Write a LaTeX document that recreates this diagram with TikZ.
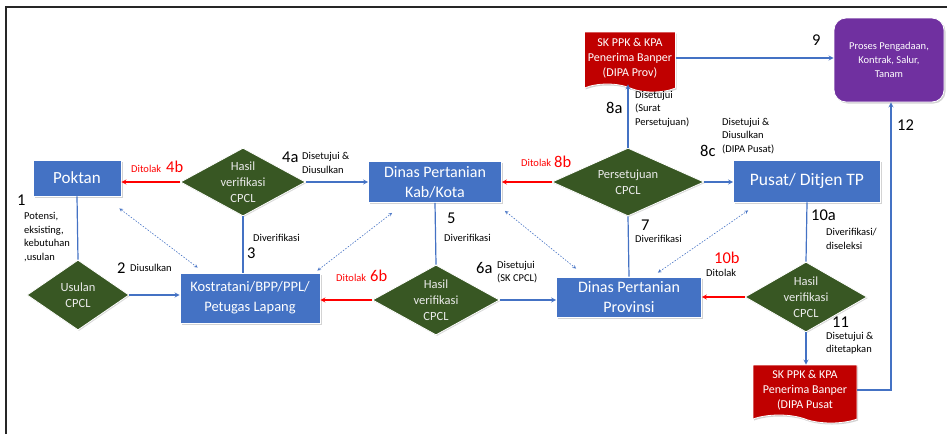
\documentclass[tikz,border=0pt]{standalone}
\usepackage{fontspec}
\setmainfont{Carlito}
\usetikzlibrary{shapes.geometric}
\usetikzlibrary{shapes.symbols}
\usetikzlibrary{shadows}
\usetikzlibrary{calc}
\definecolor{boxblue}{HTML}{4472C4}
\definecolor{dgreen}{HTML}{385723}
\definecolor{docred}{HTML}{C00000}
\definecolor{ungu}{HTML}{7030A0}
\def\nomorfont{\fontsize{16.5}{18}\selectfont}
\def\ketfont{\fontsize{10.5}{13.5}\selectfont}

\tikzset{
  box/.style={rectangle, fill=boxblue, draw=white, line width=0.8pt, text=white,
    align=center, inner sep=1pt,
    drop shadow={shadow xshift=1.5pt, shadow yshift=-1.5pt, opacity=0.35}},
  cek/.style={diamond, aspect=1.8, fill=dgreen, draw=white, line width=0.8pt,
    text=white!92!black, align=center, inner sep=0pt,
    font=\fontsize{12.5}{16}\selectfont,
    drop shadow={shadow xshift=1pt, shadow yshift=-1pt, opacity=0.3}},
  dok/.style={tape, tape bend top=none, tape bend bottom=out and in,
    tape bend height=8pt, fill=docred, draw=white, line width=0.8pt,
    text=white, align=center, inner sep=1pt,
    font=\fontsize{12}{15}\selectfont,
    drop shadow={shadow xshift=1pt, shadow yshift=-1.5pt, opacity=0.35}},
  alur/.style={->, draw=boxblue, line width=1.2pt},
  garis/.style={draw=boxblue, line width=1.2pt},
  tolak/.style={->, draw=red, line width=1.2pt},
  bolak/.style={<->, draw=boxblue, line width=0.6pt, dash pattern=on 1.5pt off 1.5pt},
  ket/.style={anchor=west, inner sep=0pt, align=left, font=\ketfont},
  nomor/.style={anchor=west, inner sep=0pt, font=\nomorfont},
  merah/.style={anchor=west, inner sep=0pt, text=red, font=\ketfont},
  merahno/.style={anchor=west, inner sep=0pt, text=red, font=\nomorfont},
}

\begin{document}
\begin{tikzpicture}[>=stealth, x=1pt, y=-1pt]

\useasboundingbox (0,0) rectangle (947,434);

% frame
\draw[line width=2pt, black!85] (6,434) -- (6,7) -- (947,7);

% boxes
\node[box, minimum width=88, minimum height=36, font=\fontsize{17}{20}\selectfont]
  (poktan) at (77,178) {Poktan};
\node[box, minimum width=140, minimum height=50, font=\fontsize{14.5}{20}\selectfont]
  (kostra) at (250,298) {Kostratani/BPP/PPL/\\Petugas Lapang};
\node[box, minimum width=133, minimum height=41, font=\fontsize{16}{20}\selectfont]
  (kab) at (435,182) {Dinas Pertanian\\Kab/Kota};
\node[box, minimum width=145, minimum height=40, font=\fontsize{16}{20}\selectfont]
  (prov) at (629,297) {Dinas Pertanian\\Provinsi};
\node[box, minimum width=147, minimum height=42, font=\fontsize{17.5}{20}\selectfont]
  (pusat) at (807,181) {Pusat/ Ditjen TP};
\node[box, fill=ungu, rounded corners=12pt, minimum width=110, minimum height=84,
  font=\fontsize{10.5}{14}\selectfont]
  (proses) at (889,60) {Proses Pengadaan,\\Kontrak, Salur,\\Tanam};

% documents
\node[dok, minimum width=91, minimum height=60] (skprov) at (630,58)
  {SK PPK \& KPA\\Penerima Banper\\(DIPA Prov)};
\node[dok, minimum width=104, minimum height=58] (skpusat) at (805,390)
  {SK PPK \& KPA\\Penerima Banper\\(DIPA Pusat};

% decisions
\node[cek, minimum width=102, minimum height=70] (usulan) at (78,295) {Usulan\\CPCL};
\node[cek, minimum width=125, minimum height=68] (hasil1) at (243,182) {Hasil\\verifikasi\\CPCL};
\node[cek, minimum width=127, minimum height=70] (hasil2) at (436,300) {Hasil\\verifikasi\\CPCL};
\node[cek, minimum width=152, minimum height=68] (setuju) at (628,182) {Persetujuan\\CPCL};
\node[cek, minimum width=122, minimum height=70] (hasil3) at (806,297) {Hasil\\verifikasi\\CPCL};

% flow
\draw[garis] (poktan.south) -- (usulan.north);
\draw[alur] (usulan.east) -- (usulan.east -| kostra.west);
\draw[garis] (hasil1.south) -- (hasil1.south |- kostra.north);
\draw[tolak] (hasil1.west) -- (hasil1.west -| poktan.east);
\draw[alur] (hasil1.east) -- (hasil1.east -| kab.west);
\draw[garis] (kab.south) -- (hasil2.north);
\draw[tolak] (hasil2.west) -- (hasil2.west -| kostra.east);
\draw[alur] (hasil2.east) -- (hasil2.east -| prov.west);
\draw[garis] (prov.north) -- (setuju.south);
\draw[tolak] (setuju.west) -- (setuju.west -| kab.east);
\draw[alur] (setuju.east) -- (setuju.east -| pusat.west);
\draw[alur] (setuju.north) -- (setuju.north |- skprov.south);
\draw[alur] (skprov.east) -- (skprov.east -| proses.west);
\draw[garis] (pusat.south) -- (hasil3.north);
\draw[tolak] (hasil3.west) -- (hasil3.west -| prov.east);
\draw[alur] (hasil3.south) -- (hasil3.south |- skpusat.north);
\draw[alur] (skpusat.east) -| ([xshift=2pt]proses.south);

% two-way links
\draw[bolak] ($(poktan.south east)+(-2,12)$) -- ($(kostra.north west)+(18,-5)$);
\draw[bolak] ($(kostra.north east)+(-3,-2)$) -- ($(kab.south west)+(24,10)$);
\draw[bolak] ($(kab.south east)+(3,8)$) -- ($(prov.north west)+(20,-8)$);
\draw[bolak] ($(prov.north east)+(-44,-4)$) -- ($(pusat.south west)+(15,8)$);

% step labels
\node[nomor] (n1) at (17,200) {1};
\node[ket] (k1) at (24,237) {Potensi,\\eksisting,\\kebutuhan\\,usulan};
\node[nomor] (n2) at (117,268) {2};
\node[ket] (k2) at (130,268) {Diusulkan};
\node[nomor] (n3) at (247,253) {3};
\node[ket] (k3) at (253,238) {Diverifikasi};
\node[merah] (t4b) at (131,169) {Ditolak};
\node[merahno] (n4b) at (166,167) {4b};
\node[nomor] (n4a) at (282,157) {4a};
\node[ket] (k4a) at (302,163) {Disetujui \&\\Diusulkan};
\node[nomor] (n5) at (447,218) {5};
\node[ket] (k5) at (444,238) {Diverifikasi};
\node[merah] (t6b) at (336,278) {Ditolak};
\node[merahno] (n6b) at (370,276) {6b};
\node[nomor] (n6a) at (476,268) {6a};
\node[ket] (k6a) at (497,272) {Disetujui\\(SK CPCL)};
\node[nomor] (n7) at (641,225) {7};
\node[ket] (k7) at (635,239) {Diverifikasi};
\node[merah] (t8b) at (521,163) {Ditolak};
\node[merahno] (n8b) at (554,162) {8b};
\node[nomor] (n8a) at (606,108) {8a};
\node[ket] (k8a) at (635,109) {Disetujui\\(Surat\\Persetujuan)};
\node[nomor] (n8c) at (700,151) {8c};
\node[ket] (k8c) at (722,136) {Disetujui \&\\Diusulkan\\(DIPA Pusat)};
\node[nomor] (n9) at (812,40) {9};
\node[nomor] (n10a) at (811,215) {10a};
\node[ket] (k10a) at (826,239) {Diverifikasi/\\diseleksi};
\node[merahno] (n10b) at (714,258) {10b};
\node[ket] (k10b) at (706,273) {Ditolak};
\node[nomor] (n11) at (832,322) {11};
\node[ket] (k11) at (826,343) {Disetujui \&\\ditetapkan};
\node[nomor] (n12) at (897,125) {12};

\end{tikzpicture}
\end{document}
